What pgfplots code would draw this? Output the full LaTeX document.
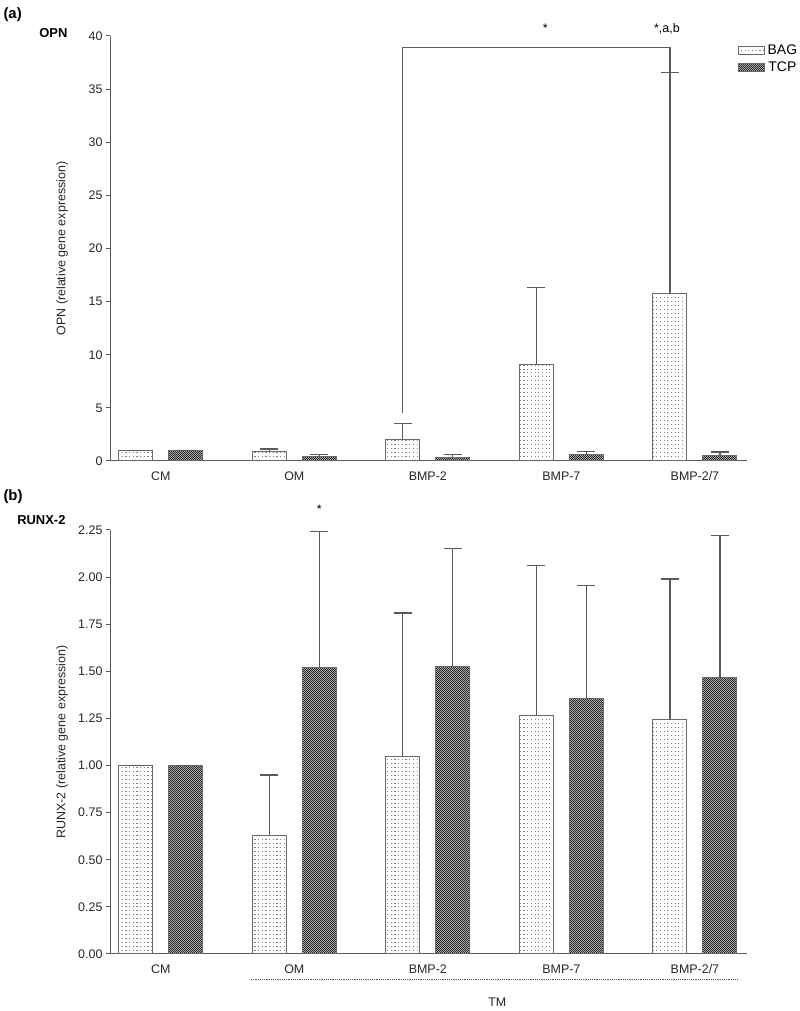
\documentclass[border=0pt]{standalone}
\usepackage{pgfplots}
\pgfplotsset{compat=1.18}
\usepackage{pgfplotstable}
\usepackage{fontspec}
\setmainfont{Liberation Sans}
\usetikzlibrary{patterns}

\definecolor{axgray}{HTML}{5A5A5A}
\definecolor{bordergray}{HTML}{6A6A6A}

\pgfdeclarepatternformonly{bagdots}{\pgfqpoint{-1pt}{-1pt}}{\pgfqpoint{4pt}{4pt}}{\pgfqpoint{3.7pt}{4pt}}%
{\pgfpathrectangle{\pgfqpoint{0pt}{0pt}}{\pgfqpoint{1.2pt}{0.9pt}}\pgfusepath{fill}}
\pgfdeclarepatternformonly{tcpcheck}{\pgfqpoint{0pt}{0pt}}{\pgfqpoint{2pt}{2pt}}{\pgfqpoint{2pt}{2pt}}%
{\pgfpathrectangle{\pgfqpoint{0pt}{0pt}}{\pgfqpoint{1pt}{1pt}}\pgfpathrectangle{\pgfqpoint{1pt}{1pt}}{\pgfqpoint{1pt}{1pt}}\pgfusepath{fill}}

\pgfplotstableread{
x bag bagerr tcp tcperr
0 1.00 0.00 1.00 0.00
1 0.85 0.28 0.38 0.24
2 2.06 1.47 0.30 0.29
3 9.10 7.20 0.59 0.29
4 15.80 20.80 0.49 0.36
}\tabA

\pgfplotstableread{
x bag bagerr tcp tcperr
0 1.000 0.000 1.000 0.000
1 0.630 0.320 1.520 0.720
2 1.050 0.760 1.525 0.625
3 1.265 0.795 1.355 0.600
4 1.245 0.745 1.465 0.755
}\tabB

\newcommand{\fs}{\fontsize{12.5}{14}\selectfont}

\pgfplotsset{
  mystyle/.style={
    scale only axis, width=637bp,
    xmin=-0.38, xmax=4.39,
    axis lines*=left,
    axis line style={axgray, line width=1bp},
    xtick={0,1,2,3,4}, xticklabels={CM,OM,BMP-2,BMP-7,BMP-2/7},
    x tick style={draw=none},
    xticklabel style={yshift=-3bp},
    ytick pos=left, tick align=outside,
    y tick style={axgray, line width=1bp}, major tick length=4bp,
    tick label style={font=\fs, text=black!85},
    /pgf/number format/assume math mode=true,
    clip=false,
    ybar, bar width=0.255,
    label style={font=\fs, text=black!85},
    ylabel style={at={(axis description cs:-0.075,0.5)}, anchor=center},
  },
  bagstyle/.style={draw=bordergray, line width=1bp, fill=white,
    postaction={pattern=bagdots, pattern color=black!50}},
  tcpstyle/.style={draw=bordergray, line width=1bp, fill=gray!50,
    postaction={pattern=tcpcheck, pattern color=black!85}},
  errstyle/.style={error bars/.cd, y dir=plus, y explicit,
    error bar style={axgray, line width=1.2bp},
    error mark options={rotate=90, axgray, line width=1.2bp, mark size=9bp}},
}

\begin{document}
\begin{tikzpicture}
\useasboundingbox (0,0) rectangle (800bp,1011bp);

% ---------- panel (a)
\begin{axis}[mystyle, at={(110bp,550bp)}, anchor=south west, height=425bp,
  ymin=0, ymax=40, ytick={0,5,...,40},
  ylabel={OPN (relative gene expression)},
  legend style={at={(axis description cs:0.985,0.985)}, anchor=north west,
    draw=none, fill=none, font=\fontsize{14}{16}\selectfont, inner sep=0pt, row sep=2bp,
    /tikz/every odd column/.append style={column sep=1bp}},
  legend image code/.code={\draw[#1] (0bp,-4bp) rectangle (26bp,4bp);},
  ]
\addplot[bagstyle, bar shift=-0.187, errstyle] table[x=x, y=bag, y error=bagerr] {\tabA};
\addplot[tcpstyle, bar shift=0.187, errstyle] table[x=x, y=tcp, y error=tcperr] {\tabA};
\legend{BAG,TCP}
\draw[axgray, line width=1.2bp] (axis cs:1.813,4.5) |- (axis cs:3.813,38.9) -- (axis cs:3.813,36.6);
\node[font=\fs, anchor=base] at (axis cs:2.88,40.3) {*};
\node[font=\fs, anchor=base] at (axis cs:3.79,40.3) {*,a,b};
\end{axis}

% ---------- panel (b)
\begin{axis}[mystyle, at={(110bp,57bp)}, anchor=south west, height=424bp,
  ymin=0, ymax=2.25, ytick={0,0.25,0.5,0.75,1,1.25,1.5,1.75,2,2.25},
  yticklabel style={/pgf/number format/.cd, fixed, fixed zerofill, precision=2},
  ylabel={RUNX-2 (relative gene expression)},
  ]
\addplot[bagstyle, bar shift=-0.187, errstyle] table[x=x, y=bag, y error=bagerr] {\tabB};
\addplot[tcpstyle, bar shift=0.187, errstyle] table[x=x, y=tcp, y error=tcperr] {\tabB};
\node[font=\fs] at (axis cs:1.187,2.36) {*};
\draw[axgray, line width=0.8bp, dash pattern=on 1.2bp off 1bp] (axis cs:0.676,-0.133) -- (axis cs:4.317,-0.133);
\node[font=\fs, text=black!85] at (axis cs:2.52,-0.255) {TM};
\end{axis}

% ---------- panel labels
\node[font=\fontsize{15}{18}\selectfont\bfseries, anchor=west] at (0bp,996bp) {(a)};
\node[font=\fontsize{13}{15}\selectfont\bfseries, anchor=east] at (71bp,978bp) {OPN};
\node[font=\fontsize{15}{18}\selectfont\bfseries, anchor=west] at (0bp,514bp) {(b)};
\node[font=\fontsize{13}{15}\selectfont\bfseries, anchor=east] at (69bp,491bp) {RUNX-2};
\end{tikzpicture}
\end{document}
